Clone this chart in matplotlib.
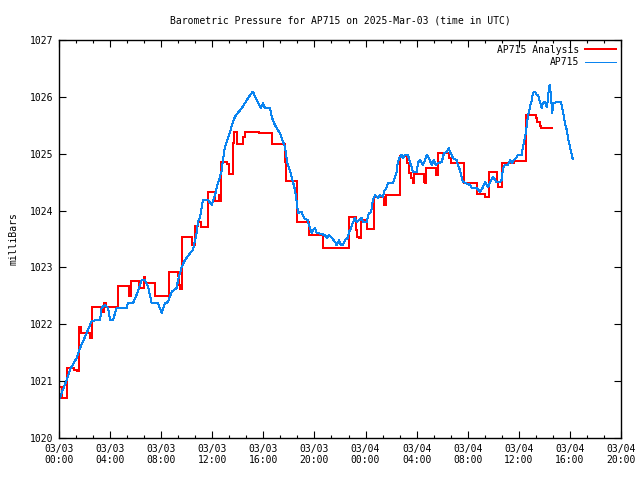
import datetime as dt
import matplotlib
matplotlib.use("Agg")
import matplotlib.pyplot as plt
from matplotlib.ticker import MultipleLocator, FuncFormatter

plt.rcParams['font.family'] = ['DejaVu Sans Mono']
plt.rcParams['font.size'] = 7
plt.rcParams['lines.antialiased'] = False

# hours since 2025-03-03 00:00 UTC, pressure in mbar
obs_hours = [0, 0.60, 0.86, 1.39, 1.64, 2.04, 2.43, 2.56, 3.21, 3.34, 3.60, 3.84, 4.00, 4.23, 4.52,
             5.30, 5.40, 5.79, 6.08, 6.34, 6.47, 6.73, 6.97, 7.26, 7.75, 8.04, 8.30, 8.53, 8.82,
             9.21, 9.32, 9.47, 9.61, 9.86, 10.26, 10.49, 10.65, 10.78, 10.88, 11.04, 11.17, 11.27,
             11.66, 11.95, 12.21, 12.45, 12.60, 12.74, 12.84, 12.99, 13.13, 13.39, 13.52, 13.78,
             14.01, 14.30, 14.56, 14.80, 15.09, 15.19, 15.34, 15.50, 15.66, 15.79, 15.97, 16.13,
             16.52, 16.65, 16.83, 17.04, 17.30, 17.54, 17.69, 17.77, 17.85, 18.01, 18.22, 18.48,
             18.63, 18.71, 18.87, 19.00, 19.18, 19.47, 19.65, 19.78, 19.89, 20.04, 20.17, 20.82,
             20.96, 21.14, 21.37, 21.61, 21.74, 21.92, 22.08, 22.23, 22.39, 22.60, 22.70, 22.86,
             22.99, 23.17, 23.31, 23.49, 23.70, 23.80, 24.09, 24.27, 24.43, 24.58, 24.74, 24.97,
             25.13, 25.37, 25.44, 25.65, 25.76, 26.15, 26.30, 26.44, 26.52, 26.62, 26.83, 26.93,
             27.09, 27.32, 27.48, 27.61, 27.71, 28.00, 28.11, 28.26, 28.39, 28.50, 28.65, 28.81,
             28.97, 29.18, 29.36, 29.51, 29.67, 29.96, 30.14, 30.35, 30.53, 30.61, 30.74, 30.85,
             31.13, 31.24, 31.39, 31.53, 31.61, 31.78, 32.18, 32.31, 32.70, 32.96, 33.17, 33.35,
             33.59, 33.74, 33.98, 34.27, 34.52, 34.66, 34.76, 34.92, 35.15, 35.31, 35.46, 35.62,
             35.83, 35.93, 36.22, 36.33, 36.48, 36.61, 36.69, 36.87, 37.01, 37.11, 37.27, 37.40,
             37.50, 37.66, 37.79, 37.89, 38.05, 38.18, 38.26, 38.36, 38.44, 38.52, 38.62, 38.70,
             38.96, 39.30, 39.40, 39.54, 39.61, 39.75, 39.85, 40.01, 40.14, 40.22]
obs_mbar = [1020.67, 1021.02, 1021.20, 1021.41, 1021.58, 1021.78, 1021.99, 1022.06, 1022.08, 1022.29,
            1022.34, 1022.29, 1022.08, 1022.08, 1022.29, 1022.29, 1022.37, 1022.37, 1022.52, 1022.69,
            1022.78, 1022.78, 1022.66, 1022.37, 1022.37, 1022.20, 1022.37, 1022.39, 1022.57, 1022.64,
            1022.78, 1022.90, 1023.01, 1023.13, 1023.25, 1023.31, 1023.48, 1023.61, 1023.80, 1023.89,
            1024.05, 1024.19, 1024.19, 1024.10, 1024.27, 1024.49, 1024.59, 1024.71, 1024.89, 1025.12,
            1025.21, 1025.38, 1025.50, 1025.65, 1025.72, 1025.80, 1025.89, 1025.98, 1026.07, 1026.09,
            1026.00, 1025.94, 1025.86, 1025.80, 1025.89, 1025.80, 1025.80, 1025.65, 1025.54, 1025.45,
            1025.36, 1025.21, 1025.12, 1025.01, 1024.85, 1024.75, 1024.59, 1024.36, 1024.13, 1023.96,
            1023.97, 1023.97, 1023.87, 1023.83, 1023.69, 1023.61, 1023.66, 1023.69, 1023.61, 1023.57,
            1023.52, 1023.57, 1023.52, 1023.45, 1023.39, 1023.48, 1023.39, 1023.39, 1023.48, 1023.52,
            1023.62, 1023.69, 1023.78, 1023.87, 1023.80, 1023.83, 1023.87, 1023.80, 1023.80, 1023.96,
            1023.97, 1024.19, 1024.27, 1024.22, 1024.27, 1024.24, 1024.33, 1024.41, 1024.49, 1024.49,
            1024.59, 1024.68, 1024.84, 1024.92, 1024.98, 1024.92, 1024.98, 1024.98, 1024.84, 1024.77,
            1024.68, 1024.68, 1024.84, 1024.89, 1024.84, 1024.80, 1024.89, 1024.98, 1024.92, 1024.80,
            1024.89, 1024.80, 1024.84, 1024.85, 1025.01, 1025.03, 1025.10, 1025.03, 1024.98, 1024.92,
            1024.89, 1024.80, 1024.71, 1024.59, 1024.50, 1024.49, 1024.45, 1024.40, 1024.40, 1024.33,
            1024.40, 1024.50, 1024.41, 1024.50, 1024.59, 1024.50, 1024.50, 1024.54, 1024.75, 1024.80,
            1024.80, 1024.89, 1024.84, 1024.89, 1024.94, 1024.98, 1024.98, 1025.12, 1025.28, 1025.47,
            1025.63, 1025.82, 1025.94, 1026.07, 1026.09, 1026.03, 1026.03, 1025.91, 1025.80, 1025.89,
            1025.91, 1025.82, 1025.91, 1026.17, 1026.21, 1026.00, 1025.72, 1025.89, 1025.91, 1025.91,
            1025.80, 1025.65, 1025.54, 1025.42, 1025.28, 1025.12, 1024.98, 1024.91]

# analysis: step changes (hour, value held until next hour)
ana_hours = [0, 0.21, 0.63, 1.17, 1.39, 1.60, 1.72, 2.45, 2.62, 3.41, 3.56, 3.68, 4.64, 5.46, 5.60,
             6.26, 6.62, 6.77, 7.55, 8.61, 9.32, 9.43, 9.51, 9.63, 10.45, 10.61, 10.92, 11.08,
             11.67, 12.25, 12.49, 12.59, 12.70, 13.19, 13.31, 13.62, 13.70, 13.97, 14.44, 14.60,
             15.66, 16.68, 17.68, 17.76, 18.63, 19.57, 20.63, 21.69, 22.69, 23.25, 23.37, 23.49,
             23.64, 24.15, 24.66, 25.48, 25.60, 26.72, 27.28, 27.44, 27.56, 27.70, 27.83, 28.54,
             28.65, 28.77, 29.48, 29.66, 30.53, 30.69, 31.71, 32.73, 33.39, 33.70, 34.33, 34.39,
             34.68, 35.62, 36.59, 37.31, 37.46, 37.62, 37.74, 38.62]
ana_mbar = [1020.90, 1020.71, 1021.23, 1021.20, 1021.17, 1021.95, 1021.85, 1021.76, 1022.31, 1022.22,
            1022.38, 1022.31, 1022.67, 1022.50, 1022.77, 1022.64, 1022.84, 1022.73, 1022.50, 1022.92,
            1022.85, 1022.69, 1022.62, 1023.54, 1023.39, 1023.72, 1023.80, 1023.71, 1024.32, 1024.16,
            1024.27, 1024.16, 1024.86, 1024.82, 1024.64, 1025.19, 1025.38, 1025.17, 1025.29, 1025.38,
            1025.36, 1025.17, 1024.85, 1024.52, 1023.80, 1023.57, 1023.35, 1023.34, 1023.89, 1023.66,
            1023.54, 1023.51, 1023.83, 1023.67, 1024.24, 1024.10, 1024.27, 1024.96, 1024.83, 1024.66,
            1024.57, 1024.48, 1024.64, 1024.51, 1024.48, 1024.74, 1024.63, 1025.01, 1024.92, 1024.84,
            1024.48, 1024.29, 1024.23, 1024.67, 1024.51, 1024.42, 1024.83, 1024.88, 1025.68, 1025.62,
            1025.56, 1025.48, 1025.45, 1025.45]

start = dt.datetime(2025, 3, 3, 0, 0)


def fmt_time(h, pos):
    t = start + dt.timedelta(hours=h)
    return t.strftime('%m/%d\n%H:%M')


fig = plt.figure(figsize=(6.4, 4.8), dpi=100)
ax = fig.add_axes([59 / 640, 42 / 480, 562 / 640, 398 / 480])

ax.plot(ana_hours, ana_mbar, color='#ff0000', lw=1.2, drawstyle='steps-post', label='AP715 Analysis')
ax.plot(obs_hours, obs_mbar, color='#0a84f0', lw=0.72, label='AP715')

ax.set_xlim(0, 44)
ax.set_ylim(1020, 1027)
ax.xaxis.set_major_locator(MultipleLocator(4))
ax.xaxis.set_minor_locator(MultipleLocator(4 / 3))
ax.xaxis.set_major_formatter(FuncFormatter(fmt_time))
ax.yaxis.set_major_locator(MultipleLocator(1))
ax.yaxis.set_major_formatter(FuncFormatter(lambda v, p: '%d' % v))
ax.tick_params(which='both', direction='in', top=True, right=True, width=0.8, colors='black')
ax.tick_params(which='major', length=5, pad=4)
ax.tick_params(which='minor', length=2.5)
for s in ax.spines.values():
    s.set_linewidth(1)

ax.set_ylabel('milliBars', labelpad=8)
ax.set_title('Barometric Pressure for AP715 on 2025-Mar-03 (time in UTC)', fontsize=7, pad=12)

leg = ax.legend(loc='upper right', frameon=False, markerfirst=False, handlelength=3.2,
                borderaxespad=0.1, labelspacing=0.25, handletextpad=0.6)
for t in leg.get_texts():
    t.set_ha('right')

fig.savefig('out.png', dpi=100)
